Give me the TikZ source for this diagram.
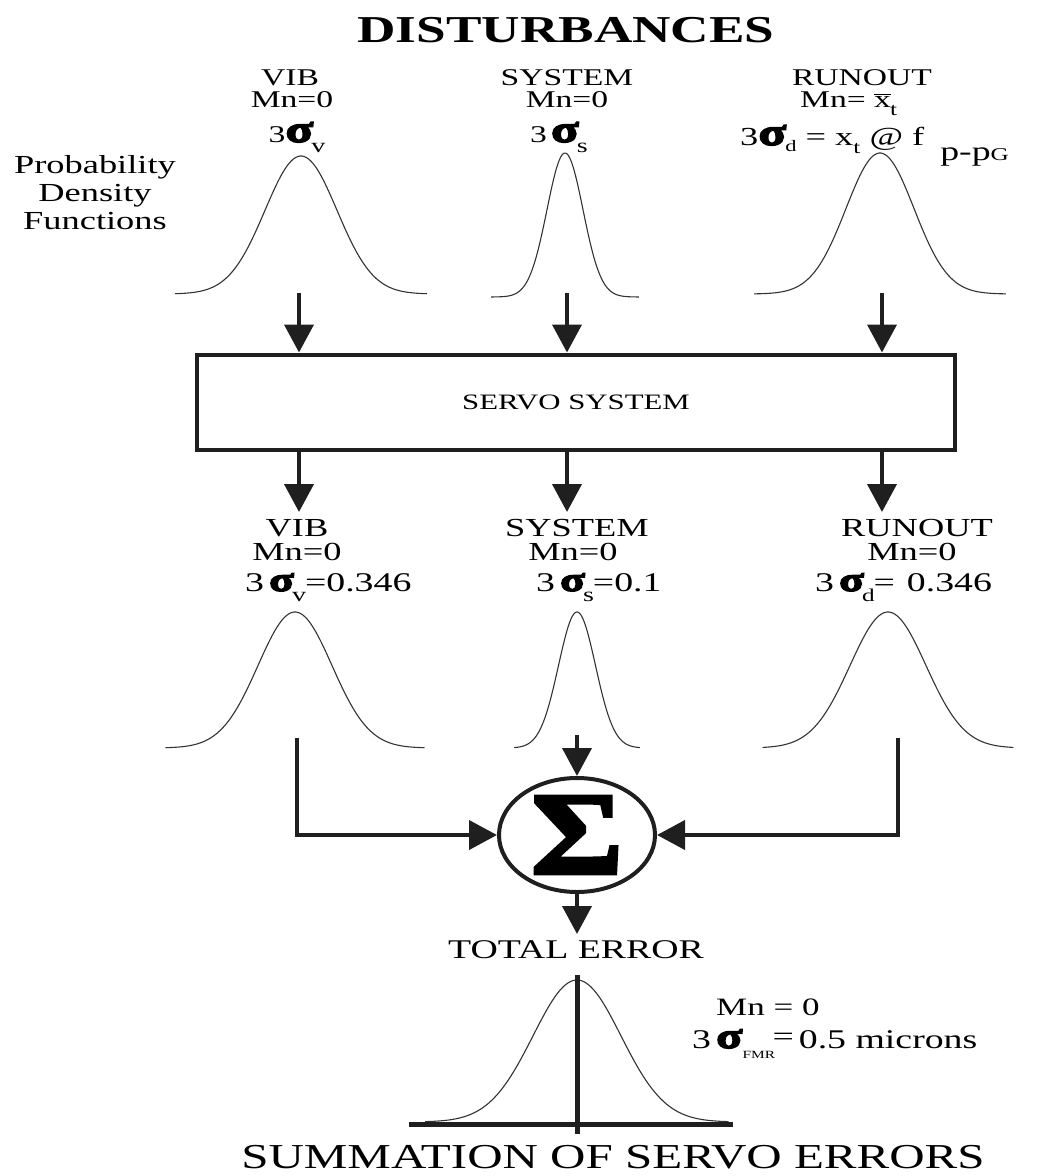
\documentclass[tikz,border=0pt]{standalone}
\usepackage{fontspec}
\setmainfont{Liberation Serif}[FakeStretch=1.4]
\newfontfamily\sigfont{Liberation Serif}[FakeStretch=1.35,BoldFeatures={FakeBold=4}]
\newfontfamily\Sigfont{Liberation Serif}[FakeStretch=1.2,BoldFeatures={FakeBold=3}]
\usetikzlibrary{arrows.meta,shapes.geometric}
\newcommand{\sig}[1]{{\sigfont\bfseries\fontsize{#1}{#1}\selectfont σ}}
\newcommand{\sub}[3]{\raisebox{-#1pt}{\fontsize{#2}{#2}\selectfont #3}}
\newcommand{\gauss}[5]{\draw[pdf] plot[domain=-#4:#4, samples=120] ({#1+#3*\x},{#2-#5*exp(-0.5*\x*\x)});}
\tikzset{
  lbltop/.style={anchor=base, inner sep=0pt, font=\fontsize{24}{24}\selectfont},
  lblmid/.style={anchor=base, inner sep=0pt, font=\fontsize{26}{26}\selectfont},
  lblsig/.style={anchor=base west, inner sep=0pt, font=\fontsize{27}{27}\selectfont},
  bigarrow/.style={line width=4pt, draw=black!88, -{Triangle[length=28pt,width=29pt]}},
  pdf/.style={line width=1.1pt, draw=black!80, smooth},
}
\begin{document}
\begin{tikzpicture}[x=1pt,y=-1pt]
\useasboundingbox (0,0) rectangle (1043,1176);
% title
\node[anchor=base, inner sep=0pt, font=\bfseries\fontsize{38}{38}\selectfont] (title) at (566,42) {DISTURBANCES};
% left caption
\node[lblmid] (p1) at (95,173) {Probability};
\node[lblmid] (p2) at (95,201) {Density};
\node[lblmid] (p3) at (95,229) {Functions};
% top labels
\node[lbltop] (v1) at (290,85) {VIB};
\node[lbltop] (v2) at (292,107) {Mn=0};
\node[lbltop] (v3) at (297,142) {3\sig{38}\kern-2pt\sub{10}{20}{v}};
\node[lbltop] (s1) at (567,85) {SYSTEM};
\node[lbltop] (s2) at (567,107) {Mn=0};
\node[lbltop] (s3) at (559,142) {3\,\sig{38}\kern-2pt\sub{10}{20}{s}};
\node[lbltop] (r1) at (862,85) {RUNOUT};
\node[lbltop, anchor=base west] (r2) at (800,107) {Mn= $\overline{\hbox{x}}$\kern-1pt\sub{8}{18}{t}};
\node[lbltop, anchor=base west, font=\fontsize{26}{26}\selectfont] (r3) at (740,145) {3\sig{38}\kern-1pt\sub{6}{16}{d} = x\sub{8}{18}{t} @ f\hspace{16pt}\sub{15}{27}{p-p\fontsize{18}{18}\selectfont G}};
% top curves
\gauss{301}{294}{36}{3.5}{138}
\gauss{565}{297}{18}{4.1}{144}
\gauss{880}{294}{34}{3.7}{141}
% servo box
\node[draw=black!88, line width=4pt, minimum width=758pt, minimum height=95pt, inner sep=0pt, font=\fontsize{22}{22}\selectfont] (box) at (576,402) {SERVO SYSTEM};
\coordinate (t1) at (299,293);
\coordinate (t2) at (567,293);
\coordinate (t3) at (882,293);
\draw[bigarrow] (t1) -- (t1 |- box.north);
\draw[bigarrow] (t2) -- (t2 |- box.north);
\draw[bigarrow] (t3) -- (t3 |- box.north);
\coordinate (b1) at (299,512);
\coordinate (b2) at (567,512);
\coordinate (b3) at (882,512);
\draw[bigarrow] (b1 |- box.south) -- (b1);
\draw[bigarrow] (b2 |- box.south) -- (b2);
\draw[bigarrow] (b3 |- box.south) -- (b3);
% middle labels
\node[lblmid] (mv1) at (297,536) {VIB};
\node[lblmid] (mv2) at (297,560) {Mn=0};
\node[lblsig] (mv3) at (245,591) {3\hspace{5pt}\sig{34}\kern-2pt\sub{10}{20}{v}\kern-1pt=0.346};
\node[lblmid] (ms1) at (577,536) {SYSTEM};
\node[lblmid] (ms2) at (573,560) {Mn=0};
\node[lblsig] (ms3) at (536,591) {3\hspace{5pt}\sig{34}\kern-2pt\sub{10}{20}{s}\kern-1pt=0.1};
\node[lblmid] (mr1) at (917,536) {RUNOUT};
\node[lblmid] (mr2) at (912,560) {Mn=0};
\node[lblsig] (mr3) at (815,591) {3\hspace{5pt}\sig{34}\kern-2pt\sub{10}{18}{d}\kern-1pt=\hspace{12pt}0.346};
% middle curves
\gauss{295}{748}{37}{3.5}{136}
\gauss{577}{748}{18.5}{3.4}{136}
\gauss{888}{748}{38}{3.3}{136}
% summation
\node[draw=black!88, ellipse, line width=4pt, minimum width=156pt, minimum height=114pt, inner sep=0pt] (sum) at (577,835) {\Sigfont\bfseries\fontsize{118}{118}\selectfont Σ};
\coordinate (c1) at (297,738);
\coordinate (c2) at (577,735);
\coordinate (c3) at (898,738);
\coordinate (c4) at (577,934);
\draw[bigarrow] (c1) |- (sum.west);
\draw[bigarrow] (c3) |- (sum.east);
\draw[bigarrow] (c2) -- (sum.north);
\draw[bigarrow] (sum.south) -- (c4);
\node[anchor=base, inner sep=0pt, font=\fontsize{27}{27}\selectfont] (tot) at (576,958) {TOTAL ERROR};
% total curve
\gauss{577}{1122}{44}{3.45}{142}
\draw[line width=5pt, draw=black!88] (577,975) -- (577,1134);
\draw[line width=5pt, draw=black!88] (409,1124) -- (733,1124);
\node[anchor=base west, inner sep=0pt, font=\fontsize{25}{25}\selectfont] (fm1) at (716,1015) {Mn = 0};
\node[anchor=base west, inner sep=0pt, font=\fontsize{27}{27}\selectfont] (fm2) at (692,1048) {3\hspace{5pt}\sig{36}\rlap{\sub{10}{11}{FMR}}\kern30pt\raisebox{3pt}{=}\hspace{5pt}0.5 microns};
\node[anchor=base, inner sep=0pt, font=\fontsize{35}{35}\selectfont] (summ) at (613,1168) {SUMMATION OF SERVO ERRORS};
\end{tikzpicture}
\end{document}
